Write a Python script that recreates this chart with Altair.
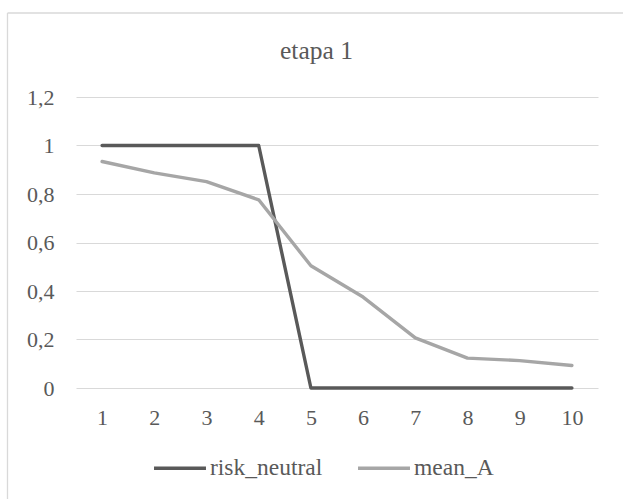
import altair as alt
import pandas as pd

categories = [str(i) for i in range(1, 11)]
risk_neutral = [1, 1, 1, 1, 0, 0, 0, 0, 0, 0]
mean_A = [0.934, 0.887, 0.851, 0.776, 0.504, 0.375, 0.207, 0.123, 0.113, 0.093]
series_names = ["risk_neutral", "mean_A"]
series_colors = ["#595959", "#A6A6A6"]
y_ticks = [0, 0.2, 0.4, 0.6, 0.8, 1.0, 1.2]
title_text = "etapa 1"

rows = []
for name, vals in zip(series_names, [risk_neutral, mean_A]):
    for c, v in zip(categories, vals):
        rows.append({"step": c, "value": v, "series": name})
df = pd.DataFrame(rows)

FONT = "Times New Roman"
TXT = "#595959"
GRID = "#D9D9D9"

lines = alt.Chart(df).mark_line(
    strokeWidth=3.4, strokeCap="round", strokeJoin="round"
).encode(
    x=alt.X(
        "step:N",
        sort=categories,
        scale=alt.Scale(padding=0.5),
        axis=alt.Axis(
            title=None, labelAngle=0, labelFont=FONT, labelFontSize=22,
            labelColor=TXT, ticks=False, tickSize=0, domain=False,
            grid=False, labelPadding=19,
        ),
    ),
    y=alt.Y(
        "value:Q",
        scale=alt.Scale(domain=[0, 1.2], nice=False),
        axis=alt.Axis(
            title=None, values=y_ticks,
            labelExpr="replace(format(datum.value, '.1~f'), '.', ',')",
            labelFont=FONT, labelFontSize=22, labelColor=TXT,
            ticks=False, tickSize=0, domain=False, labelPadding=22,
            grid=True, gridColor=GRID, gridWidth=1,
        ),
    ),
    color=alt.Color(
        "series:N",
        sort=series_names,
        scale=alt.Scale(domain=series_names, range=series_colors),
        legend=alt.Legend(
            title=None, orient="none", legendX=76, legendY=343,
            direction="horizontal", symbolType="stroke", symbolSize=2700,
            symbolStrokeWidth=3.4, labelFont=FONT, labelFontSize=23.5,
            labelColor=TXT, labelOffset=2, columnPadding=28, padding=0,
            labelLimit=400,
        ),
    ),
)

one = pd.DataFrame({"t": [title_text]})
title = alt.Chart(one).mark_text(
    font=FONT, fontSize=25.5, color=TXT, align="center", baseline="alphabetic"
).encode(text="t:N", x=alt.value(240.5), y=alt.value(-38))

border_v = alt.Chart(one).mark_rule(color=GRID, strokeWidth=1.3).encode(
    x=alt.value(-68.5), y=alt.value(-84), y2=alt.value(402)
)
border_h = alt.Chart(one).mark_rule(color=GRID, strokeWidth=1.3).encode(
    y=alt.value(-84), x=alt.value(-68.5), x2=alt.value(560)
)

chart = alt.layer(border_v, border_h, lines, title).properties(
    width=522,
    height=291,
    padding={"left": 76, "top": 97, "right": 25, "bottom": 111},
    autosize="none",
    background="white",
).configure_view(stroke=None)

chart.save("out.html", embed_options={"renderer": "svg", "actions": False})
